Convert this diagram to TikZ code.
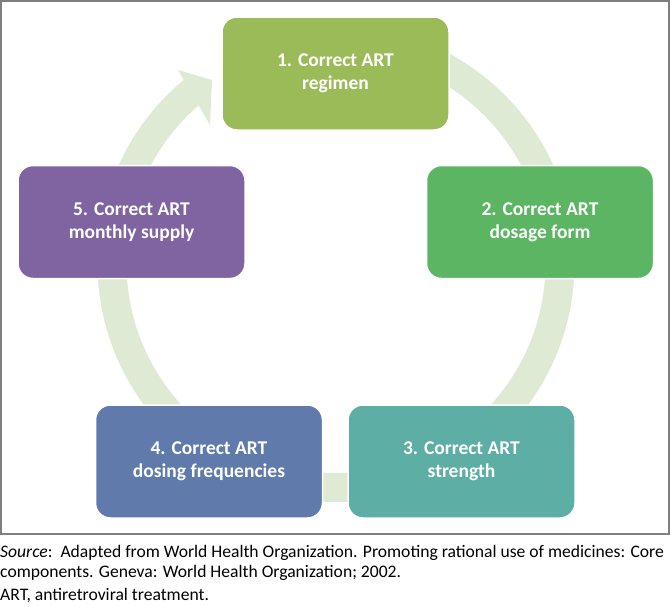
\documentclass[tikz,border=0pt]{standalone}
\usepackage{fontspec}
\setmainfont{Carlito}
\definecolor{ringc}{HTML}{DEEAD4}
\definecolor{cA}{HTML}{9BBB59}
\definecolor{cB}{HTML}{5BB563}
\definecolor{cC}{HTML}{5DAEA4}
\definecolor{cD}{HTML}{5F7AAB}
\definecolor{cE}{HTML}{8064A2}
\definecolor{framec}{HTML}{7F7F7F}
\tikzset{
  stepbox/.style={draw=white, line width=1.5pt, rounded corners=15pt,
    minimum width=227pt, minimum height=113pt, inner sep=0pt,
    align=center, text=white, font=\fontsize{19.5pt}{23pt}\selectfont\bfseries},
  capt/.style={anchor=base west, inner sep=0pt, font=\fontsize{17.6pt}{20pt}\selectfont, text=black}
}
\begin{document}
\begin{tikzpicture}[x=1pt,y=-1pt]
\useasboundingbox (0,0) rectangle (671,606);
\draw[framec, line width=1.3pt] (1,1) rectangle (669,534);
\coordinate (cc) at (336,263.5);
% ring
\draw[ringc, line width=29pt] (cc) ++(128:224pt) arc[start angle=128, end angle=475, radius=224pt];
% arrow head
\fill[ringc] (178,70) -- (212,80) -- (210,125) -- cycle;
% boxes
\node[stepbox, fill=cA] (b1) at (335.5,73.5) {1. Correct ART\\regimen};
\node[stepbox, fill=cB] (b2) at (540,222) {2. Correct ART\\dosage form};
\node[stepbox, fill=cC] (b3) at (461.5,461.5) {3. Correct ART\\strength};
\node[stepbox, fill=cD] (b4) at (209,461.5) {4. Correct ART\\dosing frequencies};
\node[stepbox, fill=cE] (b5) at (131.5,222) {5. Correct ART\\monthly supply};
% caption
\node[capt] (c1) at (0,557) {\textit{Source}:\ \ Adapted from World Health Organization. Promoting rational use of medicines: Core};
\node[capt] (c2) at (0,577) {components. Geneva: World Health Organization; 2002.};
\node[capt] (c3) at (0,600) {ART, antiretroviral treatment.};
\end{tikzpicture}
\end{document}
